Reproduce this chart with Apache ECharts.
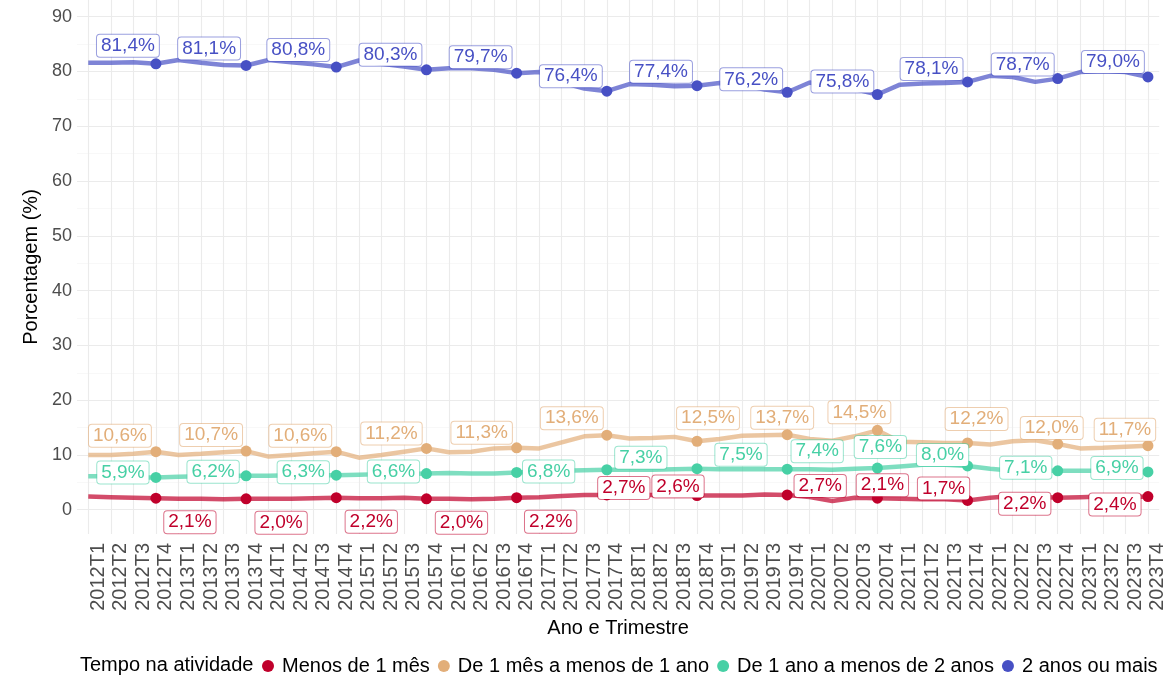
<!DOCTYPE html>
<html>
<head>
<meta charset="utf-8">
<title>Tempo na atividade</title>
<script src="https://cdn.jsdelivr.net/npm/echarts@6/dist/echarts.min.js"></script>
<style>
  html, body { margin: 0; padding: 0; background: #fff; }
  #chart { width: 1168px; height: 677px; }
</style>
</head>
<body>
<div id="chart"></div>
<script>
// eixo x: ano e trimestre
var categories = [
  "2012T1", "2012T2", "2012T3", "2012T4", "2013T1", "2013T2", "2013T3", "2013T4",
  "2014T1", "2014T2", "2014T3", "2014T4", "2015T1", "2015T2", "2015T3", "2015T4",
  "2016T1", "2016T2", "2016T3", "2016T4", "2017T1", "2017T2", "2017T3", "2017T4",
  "2018T1", "2018T2", "2018T3", "2018T4", "2019T1", "2019T2", "2019T3", "2019T4",
  "2020T1", "2020T2", "2020T3", "2020T4", "2021T1", "2021T2", "2021T3", "2021T4",
  "2022T1", "2022T2", "2022T3", "2022T4", "2023T1", "2023T2", "2023T3", "2023T4"
];

var yTicks = [0, 10, 20, 30, 40, 50, 60, 70, 80, 90];
var yMinorTicks = [5, 15, 25, 35, 45, 55, 65, 75, 85];

// Porcentagem (%) por tempo na atividade
var menos1Mes = [
  2.4, 2.3, 2.2, 2.1, 2.0, 2.0, 1.9, 2.0, 2.0, 2.0, 2.1, 2.2,
  2.1, 2.1, 2.2, 2.0, 2.0, 1.9, 2.0, 2.2, 2.3, 2.5, 2.7, 2.7,
  2.8, 2.7, 2.6, 2.6, 2.6, 2.6, 2.8, 2.7, 2.3, 1.6, 2.2, 2.1,
  2.0, 1.9, 1.9, 1.7, 2.2, 2.5, 2.4, 2.2, 2.3, 2.4, 2.3, 2.4
];
var de1MesA1Ano = [
  10.0, 10.0, 10.2, 10.6, 10.0, 10.2, 10.5, 10.7, 9.7, 10.0, 10.3, 10.6,
  9.5, 10.0, 10.6, 11.2, 10.5, 10.6, 11.2, 11.3, 11.2, 12.3, 13.4, 13.6,
  13.0, 13.1, 13.3, 12.5, 12.9, 13.5, 13.6, 13.7, 12.9, 12.6, 13.4, 14.5,
  12.4, 12.3, 12.2, 12.2, 11.9, 12.5, 12.7, 12.0, 11.2, 11.3, 11.5, 11.7
];
var de1AnoA2Anos = [
  6.1, 6.1, 5.9, 5.9, 6.0, 6.1, 6.2, 6.2, 6.2, 6.3, 6.3, 6.3,
  6.4, 6.5, 6.5, 6.6, 6.7, 6.6, 6.6, 6.8, 7.0, 7.1, 7.2, 7.3,
  7.3, 7.3, 7.4, 7.5, 7.4, 7.4, 7.4, 7.4, 7.4, 7.3, 7.5, 7.6,
  7.9, 8.2, 8.2, 8.0, 7.5, 7.1, 7.1, 7.1, 7.1, 7.1, 6.9, 6.9
];
var de2AnosOuMais = [
  81.6, 81.6, 81.7, 81.4, 82.1, 81.6, 81.2, 81.1, 82.1, 81.7, 81.3, 80.8,
  82.0, 81.4, 80.9, 80.3, 80.6, 80.6, 80.3, 79.7, 79.9, 78.0, 76.9, 76.4,
  77.7, 77.6, 77.3, 77.4, 77.9, 77.6, 76.7, 76.2, 78.0, 77.3, 76.8, 75.8,
  77.6, 77.8, 77.9, 78.1, 79.2, 79.0, 78.1, 78.7, 79.9, 80.1, 79.9, 79.0
];

var seriesNames = [
  "Menos de 1 mês",
  "De 1 mês a menos de 1 ano",
  "De 1 ano a menos de 2 anos",
  "2 anos ou mais"
];
var seriesValues = [menos1Mes, de1MesA1Ano, de1AnoA2Anos, de2AnosOuMais];
var seriesColors = ["#C0002B", "#E2AE79", "#47D0A5", "#4750C4"];
var labelBorders = ["rgba(192,0,43,0.55)", "rgba(226,174,121,0.6)", "rgba(71,208,165,0.55)", "rgba(71,80,196,0.55)"];

// deslocamento dos rótulos (px) em relação ao ponto de cada T4 (tipo ggrepel)
var labelNudge = [
  [[34, 24], [35, 24], [35, 24], [35, 24], [34, 24], [17, -7], [-19, -9], [33, -9], [5, -13], [-24, -12], [-33, 6], [-33, 8]],
  [[-36, -16], [-35, -16], [-36, -16], [-35, -15], [-35, -15], [-35, -17], [11, -23], [-5, -17], [-18, -18], [9, -24], [-6, -16], [-23, -16]],
  [[-33, -5], [-33, -4], [-33, -3], [-33, -2], [32, -1], [34, -12], [44, -14], [30, -18], [3, -21], [-25, -11], [-32, -3], [-31, -4]],
  [[-28, -18], [-37, -17], [-38, -17], [-36, -15], [-36, -16], [-36, -15], [-36, -14], [-36, -13], [-35, -13], [-36, -13], [-35, -14], [-35, -15]]
];

var font = "Liberation Sans, Arial, Helvetica, sans-serif";

function fmt(v) {
  return v.toFixed(1).replace(".", ",") + "%";
}

var series = [];
seriesNames.forEach(function (name, k) {
  series.push({
    name: name,
    type: "line",
    data: seriesValues[k],
    symbol: "none",
    z: 2,
    lineStyle: { color: seriesColors[k], width: 4.5, opacity: 0.7 },
    itemStyle: { color: seriesColors[k] },
    silent: true
  });
});
seriesNames.forEach(function (name, k) {
  var n = 0;
  var pts = seriesValues[k].map(function (v, i) {
    if (i % 4 !== 3) return "-";
    var off = labelNudge[k][n++];
    return { value: v, label: { offset: off } };
  });
  series.push({
    name: name,
    type: "scatter",
    data: pts,
    symbol: "circle",
    symbolSize: 11,
    z: 3,
    itemStyle: { color: seriesColors[k], opacity: 1 },
    label: {
      show: true,
      position: "inside",
      formatter: function (p) { return fmt(p.value); },
      fontFamily: font,
      fontSize: 19,
      lineHeight: 20,
      color: seriesColors[k],
      backgroundColor: "#fff",
      borderColor: labelBorders[k],
      borderWidth: 1,
      borderRadius: 3,
      padding: [1, 4]
    },
    silent: true
  });
});

var chart = echarts.init(document.getElementById("chart"), null, { renderer: "canvas" });
chart.setOption({
  animation: false,
  backgroundColor: "#fff",
  textStyle: { fontFamily: font },
  title: {
    text: "Tempo na atividade",
    left: 80,
    top: 655,
    padding: 0,
    textStyle: { fontFamily: font, fontSize: 20, fontWeight: "normal", color: "#000" }
  },
  legend: {
    data: seriesNames,
    left: 262,
    top: 656,
    padding: 0,
    icon: "circle",
    itemWidth: 12,
    itemHeight: 12,
    itemGap: 8,
    textStyle: { fontFamily: font, fontSize: 20, color: "#000", padding: [0, 0, 0, 3] }
  },
  grid: {
    left: 77,
    right: 8.8,
    top: 0,
    bottom: 143,
    containLabel: false,
    outerBoundsMode: "none"
  },
  xAxis: {
    type: "category",
    data: categories,
    boundaryGap: true,
    name: "Ano e Trimestre",
    nameLocation: "middle",
    nameGap: 81,
    nameTextStyle: { fontFamily: font, fontSize: 20, color: "#000" },
    axisLine: { show: false, onZero: false },
    axisTick: { show: false, alignWithLabel: true },
    axisLabel: {
      interval: 0,
      rotate: 90,
      margin: 9,
      fontFamily: font,
      fontSize: 20,
      color: "#4D4D4D",
      verticalAlign: "top"
    },
    splitLine: {
      show: true,
      interval: 0,
      alignWithLabel: true,
      lineStyle: { color: "#EBEBEB", width: 1.1 }
    }
  },
  yAxis: [
    {
      type: "value",
      min: -4.43,
      max: 93.05,
      name: "Porcentagem (%)",
      nameLocation: "middle",
      nameRotate: 90,
      nameGap: 34,
      nameTextStyle: { fontFamily: font, fontSize: 20, color: "#000" },
      axisLine: { show: false },
      axisTick: { show: false, customValues: yTicks },
      axisLabel: { customValues: yTicks, margin: 5, fontFamily: font, fontSize: 18, color: "#4D4D4D" },
      splitLine: { show: true, lineStyle: { color: "#EBEBEB", width: 1.1 } }
    },
    {
      type: "value",
      min: -4.43,
      max: 93.05,
      position: "left",
      axisLine: { show: false },
      axisTick: { show: false, customValues: yMinorTicks },
      axisLabel: { show: false, customValues: yMinorTicks },
      splitLine: { show: true, lineStyle: { color: "#F3F3F3", width: 0.6 } }
    }
  ],
  series: series
});
</script>
</body>
</html>
